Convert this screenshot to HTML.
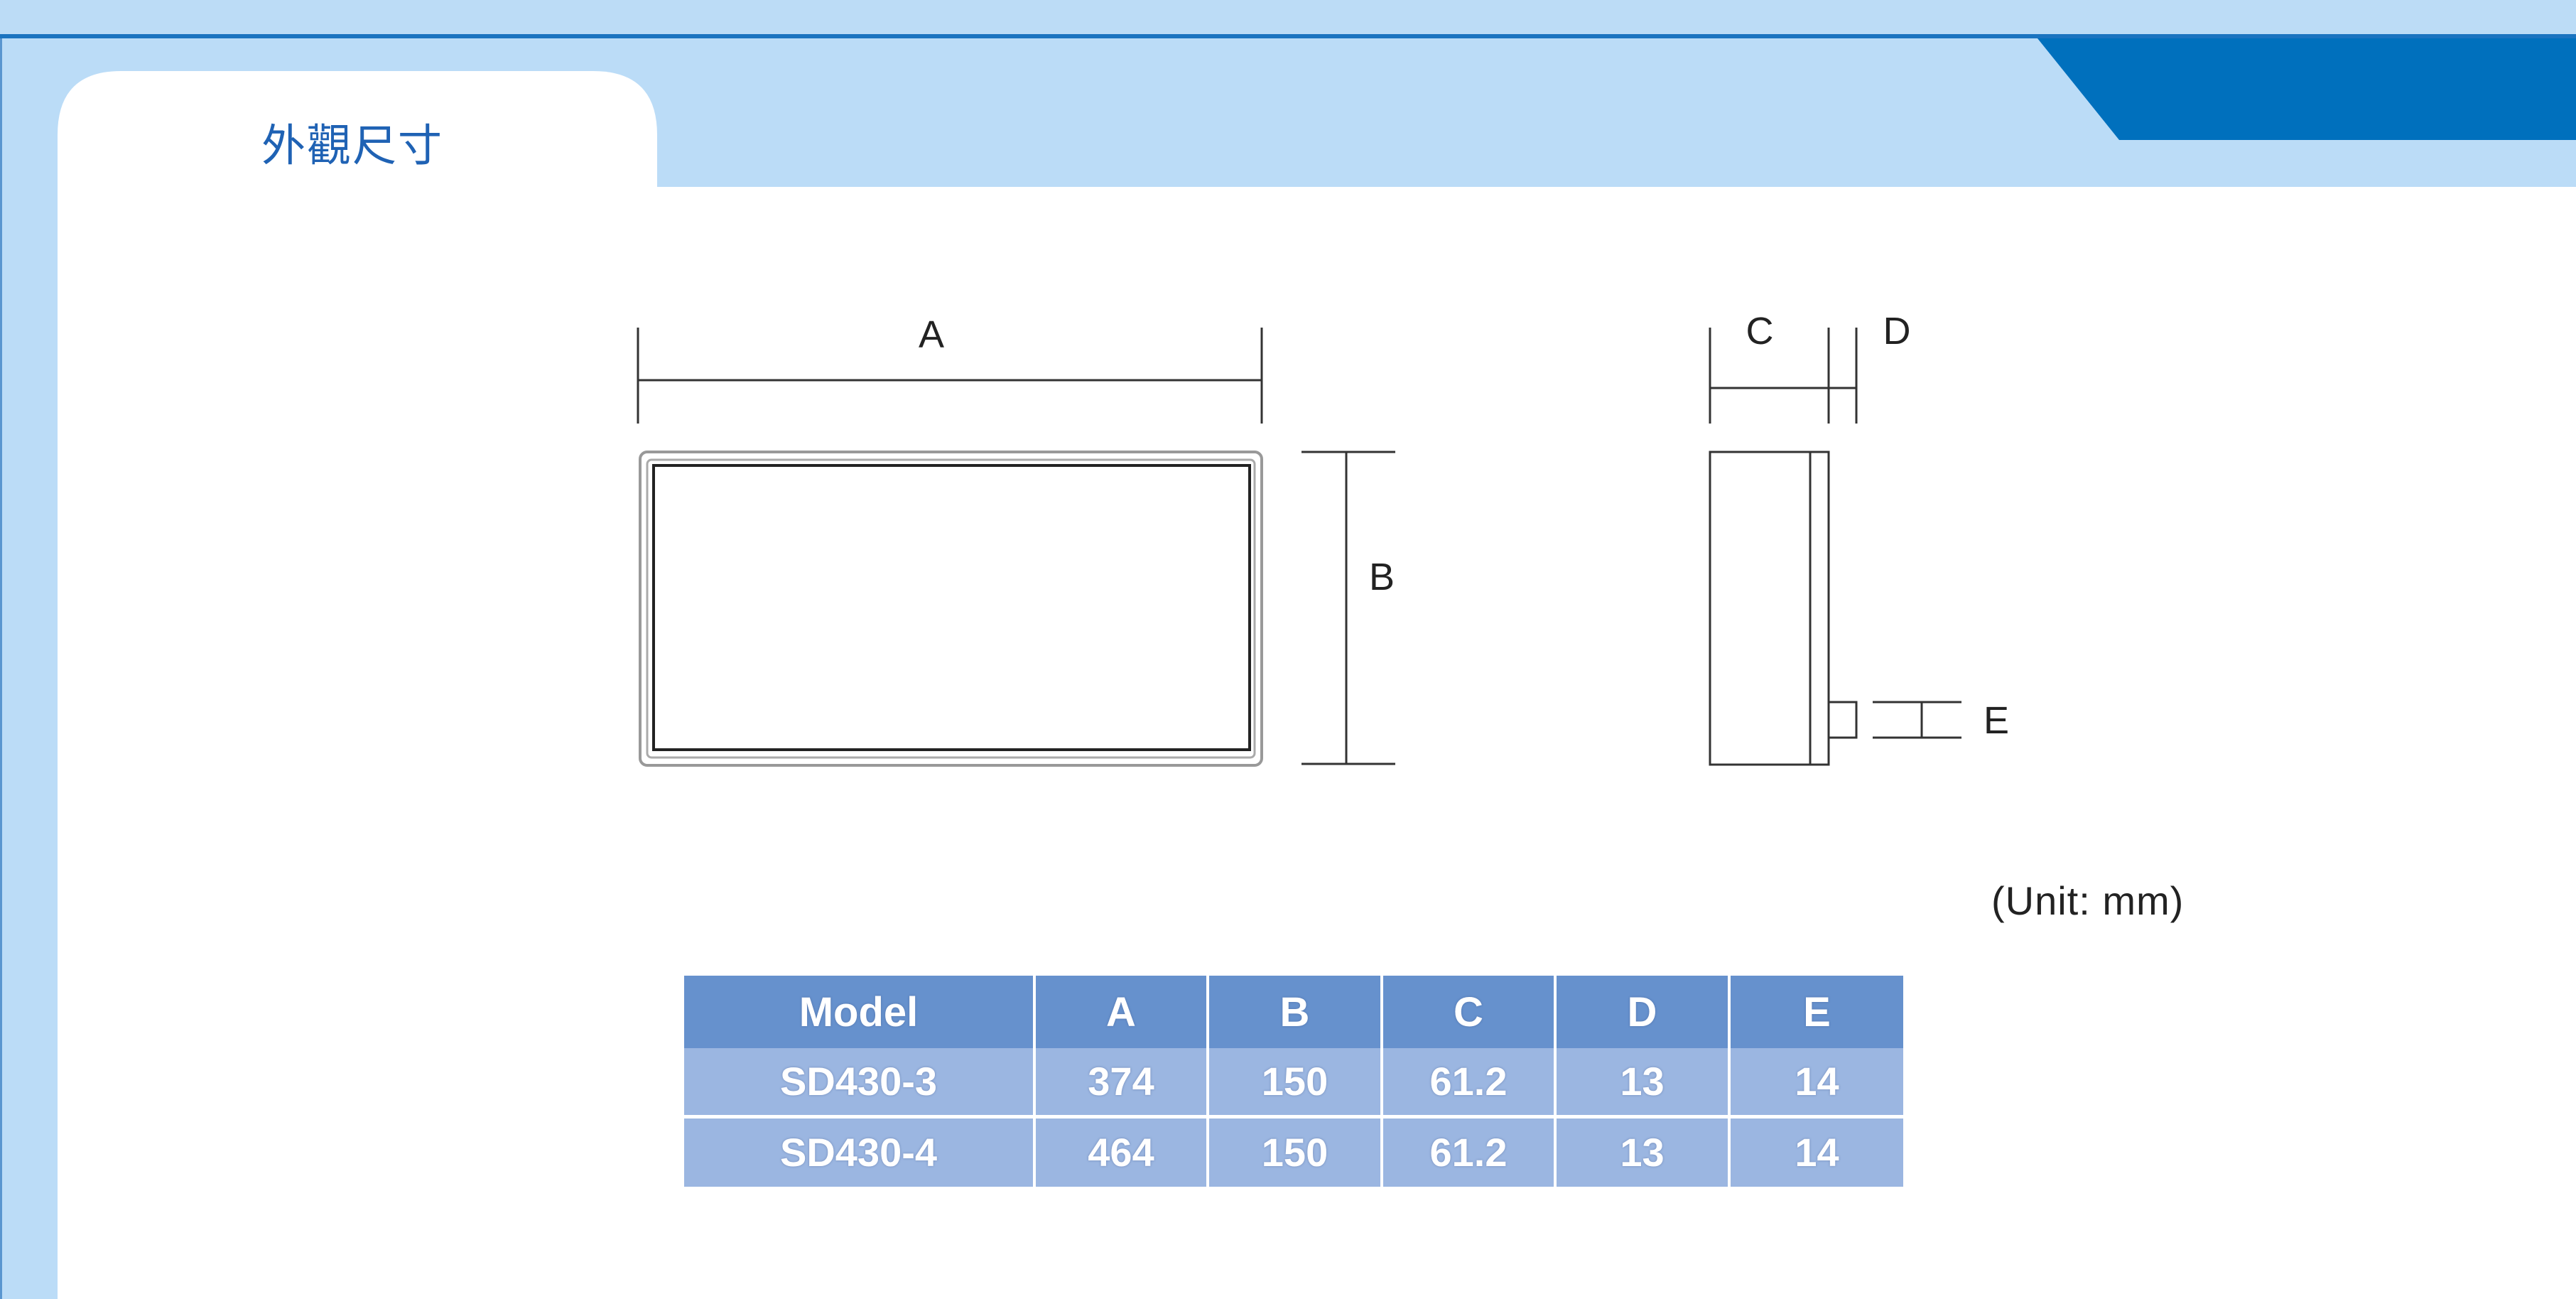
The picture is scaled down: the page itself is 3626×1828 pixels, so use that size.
<!DOCTYPE html>
<html><head><meta charset="utf-8"><style>
html,body{margin:0;padding:0}
body{width:3626px;height:1828px;position:relative;overflow:hidden;background:#fff;font-family:"Liberation Sans","Noto Sans CJK TC",sans-serif}
.abs{position:absolute}
table{position:absolute;left:963px;top:1373px;border-collapse:collapse;width:1716px}
td{color:#fff;font-weight:bold;text-align:center;padding:0;text-shadow:0 0 3px rgba(60,80,130,.45)}
</style></head><body>
<div class="abs" style="left:0;top:0;width:3626px;height:50px;background:#bcdcf6"></div>
<div class="abs" style="left:0;top:48px;width:3626px;height:6px;background:#1b74c0"></div>
<div class="abs" style="left:0;top:54px;width:3626px;height:209px;background:#bbdcf7"></div>
<div class="abs" style="left:0;top:54px;width:81px;height:1774px;background:#bbdcf7"></div>
<svg class="abs" style="left:0;top:0" width="3626" height="1828">
<polygon points="2868,54 3626,54 3626,197 2983,197" fill="#0070bd"/>
<path d="M81,263 L81,190 Q81,100 170,100 L835,100 Q925,100 925,190 L925,263 Z" fill="#fff"/>
</svg>
<div class="abs" style="left:0;top:263px;width:81px;height:1565px;background:#bbdcf7"></div>
<div class="abs" style="left:0;top:54px;width:3px;height:1774px;background:#5a96d0"></div>
<div class="abs" style="left:368px;top:168px;font-size:62px;color:#1f62b4;font-family:'Noto Sans CJK TC',sans-serif;letter-spacing:2px;line-height:1">外觀尺寸</div>

<svg class="abs" style="left:0;top:0" width="3626" height="1828" fill="none" stroke="#333" stroke-width="3">
<line x1="898" y1="461" x2="898" y2="596"/><line x1="1776" y1="461" x2="1776" y2="596"/>
<line x1="898" y1="535" x2="1776" y2="535"/>
<rect x="901" y="636" width="875" height="441" rx="10" stroke="#999" stroke-width="4"/>
<rect x="911" y="647" width="855" height="419" rx="6" stroke="#aaa" stroke-width="3"/>
<rect x="920" y="655" width="839" height="400" stroke="#222" stroke-width="4"/>
<line x1="1832" y1="636" x2="1964" y2="636"/><line x1="1832" y1="1075" x2="1964" y2="1075"/>
<line x1="1895" y1="636" x2="1895" y2="1075"/>
<line x1="2407" y1="461" x2="2407" y2="596"/><line x1="2574" y1="461" x2="2574" y2="596"/><line x1="2613" y1="461" x2="2613" y2="596"/>
<line x1="2407" y1="546" x2="2613" y2="546"/>
<rect x="2407" y="636" width="167" height="440"/>
<line x1="2548" y1="636" x2="2548" y2="1076"/>
<rect x="2574" y="988" width="39" height="50"/>
<line x1="2636" y1="988" x2="2761" y2="988"/><line x1="2636" y1="1038" x2="2761" y2="1038"/>
<line x1="2705" y1="988" x2="2705" y2="1038"/>
<g fill="#222" stroke="none" font-family="Liberation Sans,sans-serif" font-size="54">
<text x="1311" y="489" text-anchor="middle">A</text>
<text x="1945" y="830" text-anchor="middle">B</text>
<text x="2477" y="484" text-anchor="middle">C</text>
<text x="2670" y="484" text-anchor="middle">D</text>
<text x="2810" y="1032" text-anchor="middle">E</text>
<text x="2803" y="1287" font-size="56" letter-spacing="1">(Unit: mm)</text>
</g>
</svg>

<table>
<colgroup><col style="width:493px"><col style="width:244px"><col style="width:245px"><col style="width:244px"><col style="width:245px"><col style="width:245px"></colgroup>
<tr style="height:102px;background:#6691cd;font-size:58px"><td style="border-right:4px solid #fff">Model</td><td style="border-right:4px solid #fff">A</td><td style="border-right:4px solid #fff">B</td><td style="border-right:4px solid #fff">C</td><td style="border-right:4px solid #fff">D</td><td>E</td></tr>
<tr style="height:96px;background:#9bb6e1;font-size:56px"><td style="border-right:4px solid #fff;border-bottom:5px solid #fff">SD430-3</td><td style="border-right:4px solid #fff;border-bottom:5px solid #fff">374</td><td style="border-right:4px solid #fff;border-bottom:5px solid #fff">150</td><td style="border-right:4px solid #fff;border-bottom:5px solid #fff">61.2</td><td style="border-right:4px solid #fff;border-bottom:5px solid #fff">13</td><td style="border-bottom:5px solid #fff">14</td></tr>
<tr style="height:99px;background:#9bb6e1;font-size:56px"><td style="border-right:4px solid #fff">SD430-4</td><td style="border-right:4px solid #fff">464</td><td style="border-right:4px solid #fff">150</td><td style="border-right:4px solid #fff">61.2</td><td style="border-right:4px solid #fff">13</td><td>14</td></tr>
</table>
</body></html>
